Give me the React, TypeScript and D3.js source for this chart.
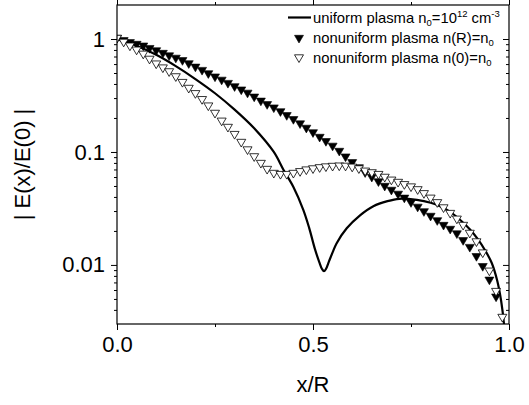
import React, { useRef, useEffect } from 'react';
import * as d3 from 'd3';

// x/R positions of the markers
const markX = [0, 0.017, 0.033, 0.05, 0.067, 0.083, 0.1, 0.117, 0.133, 0.15, 0.167, 0.183, 0.2, 0.217, 0.233, 0.25, 0.267, 0.283, 0.3, 0.317, 0.333, 0.35, 0.367, 0.383, 0.4, 0.417, 0.433, 0.45, 0.467, 0.483, 0.5, 0.517, 0.533, 0.55, 0.567, 0.583, 0.6, 0.617, 0.633, 0.65, 0.667, 0.683, 0.7, 0.717, 0.733, 0.75, 0.767, 0.783, 0.8, 0.817, 0.833, 0.85, 0.867, 0.883, 0.9, 0.917, 0.933, 0.95, 0.967, 0.983];

// nonuniform plasma n(R)=n0 (filled)
const filledVals = [1.0, 0.955, 0.916, 0.885, 0.855, 0.813, 0.776, 0.736, 0.7, 0.667, 0.635, 0.596, 0.556, 0.52, 0.486, 0.455, 0.426, 0.399, 0.373, 0.349, 0.327, 0.302, 0.278, 0.259, 0.242, 0.224, 0.207, 0.191, 0.175, 0.16, 0.146, 0.133, 0.122, 0.111, 0.1, 0.0891, 0.0794, 0.0716, 0.0646, 0.0589, 0.0537, 0.049, 0.0452, 0.0417, 0.0385, 0.0351, 0.032, 0.0292, 0.0266, 0.0243, 0.0221, 0.0204, 0.0186, 0.0162, 0.0141, 0.0117, 0.00955, 0.00724, 0.00513];

// nonuniform plasma n(0)=n0 (open)
const openVals = [1.0, 0.925, 0.855, 0.787, 0.724, 0.653, 0.593, 0.547, 0.506, 0.457, 0.407, 0.361, 0.324, 0.287, 0.252, 0.217, 0.185, 0.163, 0.141, 0.12, 0.103, 0.0895, 0.0782, 0.0692, 0.0638, 0.0624, 0.0624, 0.0638, 0.0661, 0.0684, 0.07, 0.0716, 0.0728, 0.0736, 0.0741, 0.0738, 0.0724, 0.07, 0.0668, 0.0646, 0.0624, 0.0589, 0.0556, 0.0531, 0.0507, 0.0484, 0.0457, 0.0422, 0.0385, 0.0351, 0.0316, 0.0282, 0.0251, 0.0221, 0.0188, 0.0158, 0.0126, 0.0087, 0.00575, 0.00339];

// uniform plasma (solid line)
const lineX = [0, 0.05, 0.1, 0.15, 0.2, 0.25, 0.3, 0.35, 0.4, 0.425, 0.45, 0.475, 0.49, 0.505, 0.516, 0.523, 0.528, 0.533, 0.541, 0.55, 0.56, 0.586, 0.62, 0.654, 0.69, 0.72, 0.765, 0.8, 0.824, 0.85, 0.875, 0.9, 0.92, 0.94, 0.956, 0.97, 0.98, 0.988, 0.995];
const lineY = [1.0, 0.871, 0.724, 0.575, 0.442, 0.331, 0.237, 0.162, 0.1, 0.0692, 0.049, 0.0309, 0.0214, 0.0138, 0.0106, 0.0092, 0.0088, 0.0092, 0.0108, 0.0129, 0.0155, 0.0211, 0.0275, 0.0331, 0.0367, 0.0385, 0.0376, 0.0355, 0.0331, 0.0295, 0.0251, 0.0207, 0.017, 0.0133, 0.0104, 0.00724, 0.00479, 0.00282, 0.00126];

const xTicks = [0, 0.5, 1];
const xMinor = [0.25, 0.75];
const yTicks = [1, 0.1, 0.01];
const yTickLabels = ['1', '0.1', '0.01'];

const W = 529;
const H = 405;
const left = 117, right = 509, top = 5, bottom = 324;
const FONT = '"Liberation Sans", Arial, sans-serif';

const tri = (cx: number, cy: number) =>
  `M${cx - 4.5},${cy - 3.7}L${cx + 4.5},${cy - 3.7}L${cx},${cy + 4}Z`;

const App = () => {
  const svgRef = useRef<SVGSVGElement>(null);

  const x = d3.scaleLinear().domain([0, 1]).range([left, right]);
  const y = d3.scaleLog().domain([0.003, 2]).range([bottom, top]);

  const yMinor: number[] = [];
  [0.001, 0.01, 0.1, 1].forEach((d) => {
    for (let k = 2; k <= 9; k++) {
      const v = d * k;
      if (v > 0.003 && v < 2) yMinor.push(v);
    }
  });

  useEffect(() => {
    const svg = d3.select(svgRef.current);

    const fmtY = (d: any) => yTickLabels[yTicks.indexOf(d)] ?? '';

    svg.select<SVGGElement>('.xAxis')
      .attr('transform', `translate(0,${bottom})`)
      .call(d3.axisBottom(x).tickValues(xTicks).tickFormat(d3.format('.1f')).tickSize(6).tickSizeOuter(0).tickPadding(6));
    svg.select<SVGGElement>('.xMinor')
      .attr('transform', `translate(0,${bottom})`)
      .call(d3.axisBottom(x).tickValues(xMinor).tickFormat(() => '').tickSize(3).tickSizeOuter(0));
    svg.select<SVGGElement>('.xTop')
      .attr('transform', `translate(0,${top})`)
      .call(d3.axisTop(x).tickValues(xTicks).tickFormat(() => '').tickSize(6).tickSizeOuter(0));
    svg.select<SVGGElement>('.xTopMinor')
      .attr('transform', `translate(0,${top})`)
      .call(d3.axisTop(x).tickValues(xMinor).tickFormat(() => '').tickSize(3).tickSizeOuter(0));

    svg.select<SVGGElement>('.yAxis')
      .attr('transform', `translate(${left},0)`)
      .call(d3.axisLeft(y).tickValues(yTicks).tickFormat(fmtY).tickSize(6).tickSizeOuter(0).tickPadding(6));
    svg.select<SVGGElement>('.yMinor')
      .attr('transform', `translate(${left},0)`)
      .call(d3.axisLeft(y).tickValues(yMinor).tickFormat(() => '').tickSize(3).tickSizeOuter(0));
    // right side: ticks point inward
    svg.select<SVGGElement>('.yRight')
      .attr('transform', `translate(${right},0)`)
      .call(d3.axisLeft(y).tickValues(yTicks).tickFormat(() => '').tickSize(6).tickSizeOuter(0));
    svg.select<SVGGElement>('.yRightMinor')
      .attr('transform', `translate(${right},0)`)
      .call(d3.axisLeft(y).tickValues(yMinor).tickFormat(() => '').tickSize(3).tickSizeOuter(0));

    svg.selectAll('.ax .domain').remove();
    svg.selectAll('.ax line').attr('stroke', '#000').attr('stroke-width', 1);
    svg.selectAll('.ax text')
      .attr('font-family', FONT)
      .attr('font-size', 22)
      .attr('fill', '#000');
  }, []);

  const linePath = d3.line<number>()
    .x((d, i) => x(lineX[i]))
    .y((d) => y(d))
    .curve(d3.curveCatmullRom.alpha(0.5))(lineY);

  return (
    <svg ref={svgRef} width={W} height={H} style={{ position: 'absolute', left: 0, top: 0, background: '#fff' }}>
      <defs>
        <clipPath id="plot">
          <rect x={left} y={top} width={right - left} height={bottom - top} />
        </clipPath>
      </defs>
      <rect x={0} y={0} width={W} height={H} fill="#fff" />
      <g clipPath="url(#plot)">
        <path d={linePath ?? ''} fill="none" stroke="#000" strokeWidth={2.2} />
        {filledVals.map((v, i) => (
          <path key={'f' + i} d={tri(x(markX[i]), y(v))} fill="#000" stroke="#000" strokeWidth={0.6} />
        ))}
        {openVals.map((v, i) => (
          <path key={'o' + i} d={tri(x(markX[i]), y(v))} fill="#fff" stroke="#000" strokeWidth={0.8} />
        ))}
      </g>
      <rect x={left} y={top} width={right - left} height={bottom - top} fill="none" stroke="#000" strokeWidth={1.2} />
      <g className="ax xAxis" />
      <g className="ax xMinor" />
      <g className="ax xTop" />
      <g className="ax xTopMinor" />
      <g className="ax yAxis" />
      <g className="ax yMinor" />
      <g className="ax yRight" />
      <g className="ax yRightMinor" />

      <text x={(left + right) / 2} y={392} textAnchor="middle" fontFamily={FONT} fontSize={22}>x/R</text>
      <text transform={`translate(30,${(top + bottom) / 2}) rotate(-90)`} textAnchor="middle" fontFamily={FONT} fontSize={22}>| E(x)/E(0) |</text>

      <g fontFamily={FONT} fontSize={14.8} fill="#000">
        <line x1={288} x2={311} y1={17.5} y2={17.5} stroke="#000" strokeWidth={2.2} />
        <text x={313} y={23}>
          uniform plasma n<tspan fontSize={9.5} dy={3}>0</tspan><tspan dy={-3}>=10</tspan><tspan fontSize={9.5} dy={-6}>12</tspan><tspan dy={6}> cm</tspan><tspan fontSize={9.5} dy={-6}>-3</tspan>
        </text>
        <path d={tri(299, 39)} fill="#000" stroke="#000" strokeWidth={0.6} />
        <text x={313} y={43}>
          nonuniform plasma n(R)=n<tspan fontSize={9.5} dy={3}>0</tspan>
        </text>
        <path d={tri(299, 58.5)} fill="#fff" stroke="#000" strokeWidth={0.8} />
        <text x={313} y={62.5}>
          nonuniform plasma n(0)=n<tspan fontSize={9.5} dy={3}>0</tspan>
        </text>
      </g>
    </svg>
  );
};

export default App;
